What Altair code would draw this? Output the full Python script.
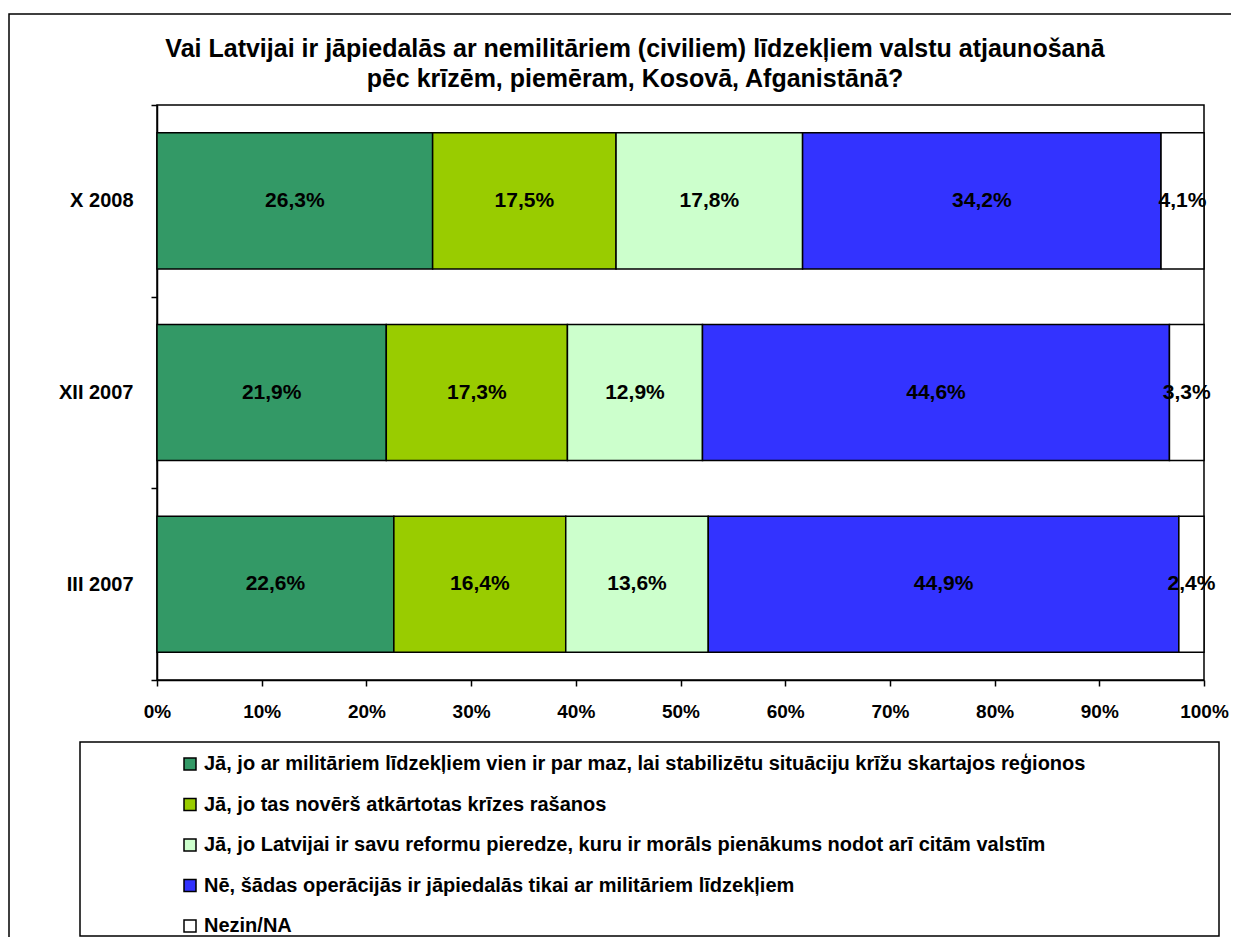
import altair as alt
import pandas as pd

categories = ["X 2008", "XII 2007", "III 2007"]
series = [
    "Jā, jo ar militāriem līdzekļiem vien ir par maz, lai stabilizētu situāciju krīžu skartajos reģionos",
    "Jā, jo tas novērš atkārtotas krīzes rašanos",
    "Jā, jo Latvijai ir savu reformu pieredze, kuru ir morāls pienākums nodot arī citām valstīm",
    "Nē, šādas operācijās ir jāpiedalās tikai ar militāriem līdzekļiem",
    "Nezin/NA",
]
colors = ["#339966", "#99CC00", "#CCFFCC", "#3333FF", "#FFFFFF"]

vals_x2008 = [26.3, 17.5, 17.8, 34.2, 4.1]
vals_xii2007 = [21.9, 17.3, 12.9, 44.6, 3.3]
vals_iii2007 = [22.6, 16.4, 13.6, 44.9, 2.4]
x_ticks = [0, 0.1, 0.2, 0.3, 0.4, 0.5, 0.6, 0.7, 0.8, 0.9, 1.0]
title_lines = [
    "Vai Latvijai ir jāpiedalās ar nemilitāriem (civiliem) līdzekļiem valstu atjaunošanā",
    "pēc krīzēm, piemēram, Kosovā, Afganistānā?",
]

rows = []
for cat, vals in zip(categories, [vals_x2008, vals_xii2007, vals_iii2007]):
    for i, (s, v) in enumerate(zip(series, vals)):
        rows.append({"cat": cat, "series": s, "order": i, "value": v})
df = pd.DataFrame(rows)

FONT = "Liberation Sans"
W, H = 1047, 575

base = alt.Chart(df).transform_stack(
    stack="value", groupby=["cat"], sort=[alt.SortField("order")],
    as_=["x0", "x1"], offset="normalize"
).transform_calculate(
    mid="(datum.x0 + datum.x1) / 2",
    label="replace(format(datum.value, '.1f'), '.', ',') + '%'"
)

yenc = alt.Y("cat:N", sort=categories,
             scale=alt.Scale(paddingInner=0, paddingOuter=0),
             axis=alt.Axis(title=None, tickBand="extent", labelFontSize=20,
                           labelFontWeight="bold", labelPadding=18, tickSize=6,
                           labelFont=FONT))

bars = base.mark_bar(stroke="black", strokeWidth=1.5, height={"band": 0.71}).encode(
    x=alt.X("x0:Q", scale=alt.Scale(domain=[0, 1], nice=False),
            axis=alt.Axis(title=None, values=x_ticks, format="%", labelFontSize=19,
                          labelFontWeight="bold", labelPadding=16, tickSize=6,
                          labelFont=FONT, labelFlush=False, labelOverlap=False)),
    x2="x1:Q",
    y=yenc,
    color=alt.Color("series:N", sort=series,
                    scale=alt.Scale(domain=series, range=colors),
                    legend=alt.Legend(title=None, orient="none", legendX=23, legendY=649,
                                      symbolType="square", symbolSize=144,
                                      symbolStrokeColor="black", symbolStrokeWidth=1.5,
                                      labelFontSize=20, labelFontWeight="bold",
                                      labelFont=FONT, labelLimit=1200, labelOffset=4,
                                      rowPadding=20.5, padding=0, direction="vertical")),
    order=alt.Order("order:Q"),
)

texts = base.mark_text(fontSize=21, fontWeight="bold", font=FONT, color="black").encode(
    x=alt.X("mid:Q"),
    y=alt.Y("cat:N", sort=categories),
    text="label:N",
)

one = pd.DataFrame({"a": [0]})
legend_box = alt.Chart(one).mark_rect(fill="transparent", stroke="black", strokeWidth=1.5).encode(
    x=alt.value(-77), x2=alt.value(1062), y=alt.value(637), y2=alt.value(831)
)
outer_box = alt.Chart(one).mark_rect(fill="transparent", stroke="black", strokeWidth=1.5).encode(
    x=alt.value(-148), x2=alt.value(1300), y=alt.value(-91), y2=alt.value(1000)
)
title = alt.Chart(one).mark_text(fontSize=25, fontWeight="bold", font=FONT, color="black",
                                 align="center", baseline="alphabetic", lineHeight=30).encode(
    x=alt.value(478), y=alt.value(-48), text=alt.value(title_lines)
)

chart = alt.layer(outer_box, title, bars, texts, legend_box).properties(
    width=W, height=H,
    autosize=alt.AutoSizeParams(type="none"),
    padding={"left": 149, "top": 97, "right": 27, "bottom": 257},
).configure_view(stroke="black", strokeWidth=1.5).configure_axis(
    domainColor="black", tickColor="black", labelColor="black", grid=False,
    domainWidth=1.5, tickWidth=1.5
).configure_legend(labelColor="black")

chart.save("out.html", embed_options={"renderer": "svg", "actions": False})
